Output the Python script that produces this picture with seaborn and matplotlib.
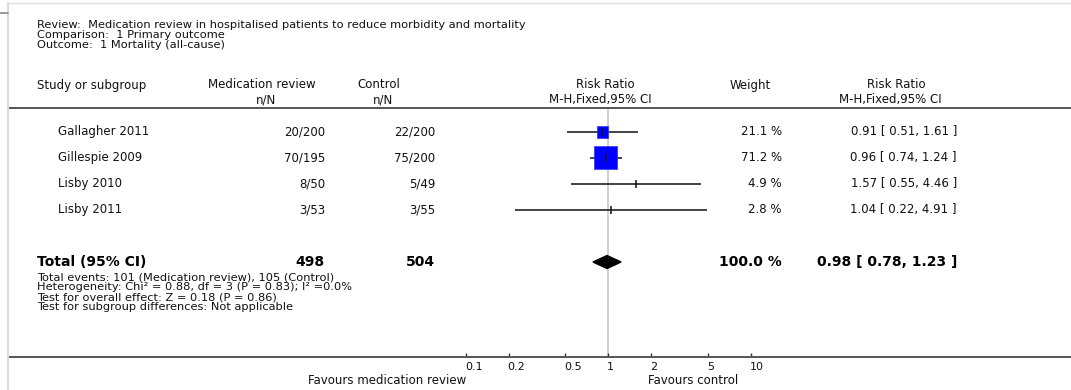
import matplotlib
matplotlib.use("Agg")
import matplotlib.pyplot as plt
import matplotlib.transforms as mtransforms
from matplotlib.lines import Line2D
import seaborn as sns
import pandas as pd
import numpy as np

# data
studies = ["Gallagher 2011", "Gillespie 2009", "Lisby 2010", "Lisby 2011"]
med_nN = ["20/200", "70/195", "8/50", "3/53"]
ctl_nN = ["22/200", "75/200", "5/49", "3/55"]
weights = [21.1, 71.2, 4.9, 2.8]
rr = [0.91, 0.96, 1.57, 1.04]
rr_lo = [0.51, 0.74, 0.55, 0.22]
rr_hi = [1.61, 1.24, 4.46, 4.91]

total_med = 498
total_ctl = 504
total_rr = 0.98
total_lo = 0.78
total_hi = 1.23

header_lines = [
    "Review:  Medication review in hospitalised patients to reduce morbidity and mortality",
    "Comparison:  1 Primary outcome",
    "Outcome:  1 Mortality (all-cause)",
]
footnotes = [
    "Total events: 101 (Medication review), 105 (Control)",
    "Heterogeneity: Chi\u00b2 = 0.88, df = 3 (P = 0.83); I\u00b2 =0.0%",
    "Test for overall effect: Z = 0.18 (P = 0.86)",
    "Test for subgroup differences: Not applicable",
]
tick_vals = [0.1, 0.2, 0.5, 1, 2, 5, 10]
tick_labels = ["0.1", "0.2", "0.5", "1", "2", "5", "10"]

W, H = 1071, 390
TOTAL_ROW = 5

sns.set_theme(style="white")
plt.rcParams["font.family"] = ["DejaVu Sans"]

fig = plt.figure(figsize=(W / 100, H / 100), dpi=100)


def fx(x):
    return x / W


def fy(y):
    return 1 - y / H


# plot area: top spine is the header rule, bottom spine is the scale line
ax_top, ax_bot, ax_left = 107.5, 356.5, 10
ax = fig.add_axes([fx(ax_left), fy(ax_bot), 1 - fx(ax_left), (ax_bot - ax_top) / H])
ax.set_xscale("log")
x_one, decade = 608.3, 142.5
ax.set_xlim(10 ** ((ax_left - x_one) / decade), 10 ** ((W - x_one) / decade))
row0, row_step = 132, 26
ylims = ((ax_bot - row0) / row_step, (ax_top - row0) / row_step)

df = pd.DataFrame({"study": studies, "rr": rr, "lo": rr_lo, "hi": rr_hi,
                   "weight": weights, "row": range(len(studies))})

# square side grows with sqrt of weight; tiny studies show only the tick
side_px = 23 * np.sqrt(np.clip((df["weight"] - 4.9) / (71.2 - 4.9), 0, None))
areas = (side_px * 0.72) ** 2
size_map = dict(zip(df["weight"], areas))

ax.axvline(1, color="#c4c4c4", lw=1.1, zorder=0)
ax.hlines(df["row"], df["lo"], df["hi"], color="#111111", lw=1.1, zorder=2)
sns.scatterplot(data=df, x="rr", y="row", size="weight", sizes=size_map,
                marker="s", color="#0000ff", edgecolor="#3030ff",
                linewidth=0.5, legend=False, ax=ax, zorder=3)
ax.scatter(df["rr"], df["row"], marker="|", s=28, color="#111111",
           linewidths=1.1, zorder=4)
ax.fill([total_lo, total_rr, total_hi, total_rr],
        [TOTAL_ROW, TOTAL_ROW - 0.25, TOTAL_ROW, TOTAL_ROW + 0.25],
        color="black", zorder=3)

ax.set_ylim(*ylims)
ax.set_xlabel("")
ax.set_ylabel("")
ax.set_yticks([])
ax.minorticks_off()
ax.set_xticks(tick_vals)
ax.set_xticklabels(tick_labels)
ax.tick_params(axis="x", direction="in", length=3, width=1, color="#333333",
               labelsize=8, pad=4, labelcolor="#111111", bottom=True)
for lab in ax.get_xticklabels():
    lab.set_ha("left")
for side in ["left", "right"]:
    ax.spines[side].set_visible(False)
for side in ["top", "bottom"]:
    ax.spines[side].set_color("#555555")
    ax.spines[side].set_linewidth(1.4)
ax.set_facecolor("none")
ax.grid(False)

# small shift so tick labels start at their tick
offset = mtransforms.ScaledTranslation(-1 / 100, 0, fig.dpi_scale_trans)
for lab in ax.get_xticklabels():
    lab.set_transform(lab.get_transform() + offset)

# frame decoration
fig.add_artist(Line2D([fx(8), fx(8)], [fy(3), fy(H)], color="#dcdcdc", lw=1.5))
fig.add_artist(Line2D([fx(8), 1], [fy(3), fy(3)], color="#dedede", lw=1.0))
fig.add_artist(Line2D([0, fx(8)], [fy(13), fy(13)], color="#8a8a8a", lw=1.2))

txt = dict(color="#111111", fontsize=8.5, va="center")
block = dict(color="#111111", fontsize=8.2, va="top", ha="left", linespacing=1.0)

# tight multi-line blocks, as in the source layout
fig.text(fx(37), fy(20.5), "\n".join(header_lines), **block)
fig.text(fx(37), fy(272.5), "\n".join(footnotes), **block)

fig.text(fx(37), fy(85), "Study or subgroup", ha="left", **txt)
fig.text(fx(262), fy(85), "Medication review", ha="center", **txt)
fig.text(fx(266), fy(100), "n/N", ha="center", **txt)
fig.text(fx(379), fy(85), "Control", ha="center", **txt)
fig.text(fx(383), fy(100), "n/N", ha="center", **txt)
fig.text(fx(605), fy(85), "Risk Ratio", ha="center", **txt)
fig.text(fx(600), fy(100), "M-H,Fixed,95% CI", ha="center", **txt)
fig.text(fx(750), fy(85), "Weight", ha="center", **txt)
fig.text(fx(896), fy(85), "Risk Ratio", ha="center", **txt)
fig.text(fx(890), fy(100), "M-H,Fixed,95% CI", ha="center", **txt)

# table columns, rows placed on the data y scale
row_tr = mtransforms.blended_transform_factory(fig.transFigure, ax.transData)
for i, s in enumerate(studies):
    ax.text(fx(58), i, s, ha="left", transform=row_tr, **txt)
    ax.text(fx(325), i, med_nN[i], ha="right", transform=row_tr, **txt)
    ax.text(fx(435), i, ctl_nN[i], ha="right", transform=row_tr, **txt)
    ax.text(fx(782), i, f"{weights[i]:.1f} %", ha="right", transform=row_tr, **txt)
    ax.text(fx(957), i, f"{rr[i]:.2f} [ {rr_lo[i]:.2f}, {rr_hi[i]:.2f} ]",
            ha="right", transform=row_tr, **txt)

bold = dict(color="#000000", fontsize=10, fontweight="bold", va="center",
            transform=row_tr)
ax.text(fx(37), TOTAL_ROW, "Total (95% CI)", ha="left", **bold)
ax.text(fx(325), TOTAL_ROW, f"{total_med}", ha="right", **bold)
ax.text(fx(435), TOTAL_ROW, f"{total_ctl}", ha="right", **bold)
ax.text(fx(782), TOTAL_ROW, f"{sum(weights):.1f} %", ha="right", **bold)
ax.text(fx(957), TOTAL_ROW, f"{total_rr:.2f} [ {total_lo:.2f}, {total_hi:.2f} ]",
        ha="right", **bold)

fig.text(fx(466), fy(380), "Favours medication review", ha="right", **txt)
fig.text(fx(648), fy(380), "Favours control", ha="left", **txt)

fig.savefig("out.png", dpi=100, facecolor="white")
